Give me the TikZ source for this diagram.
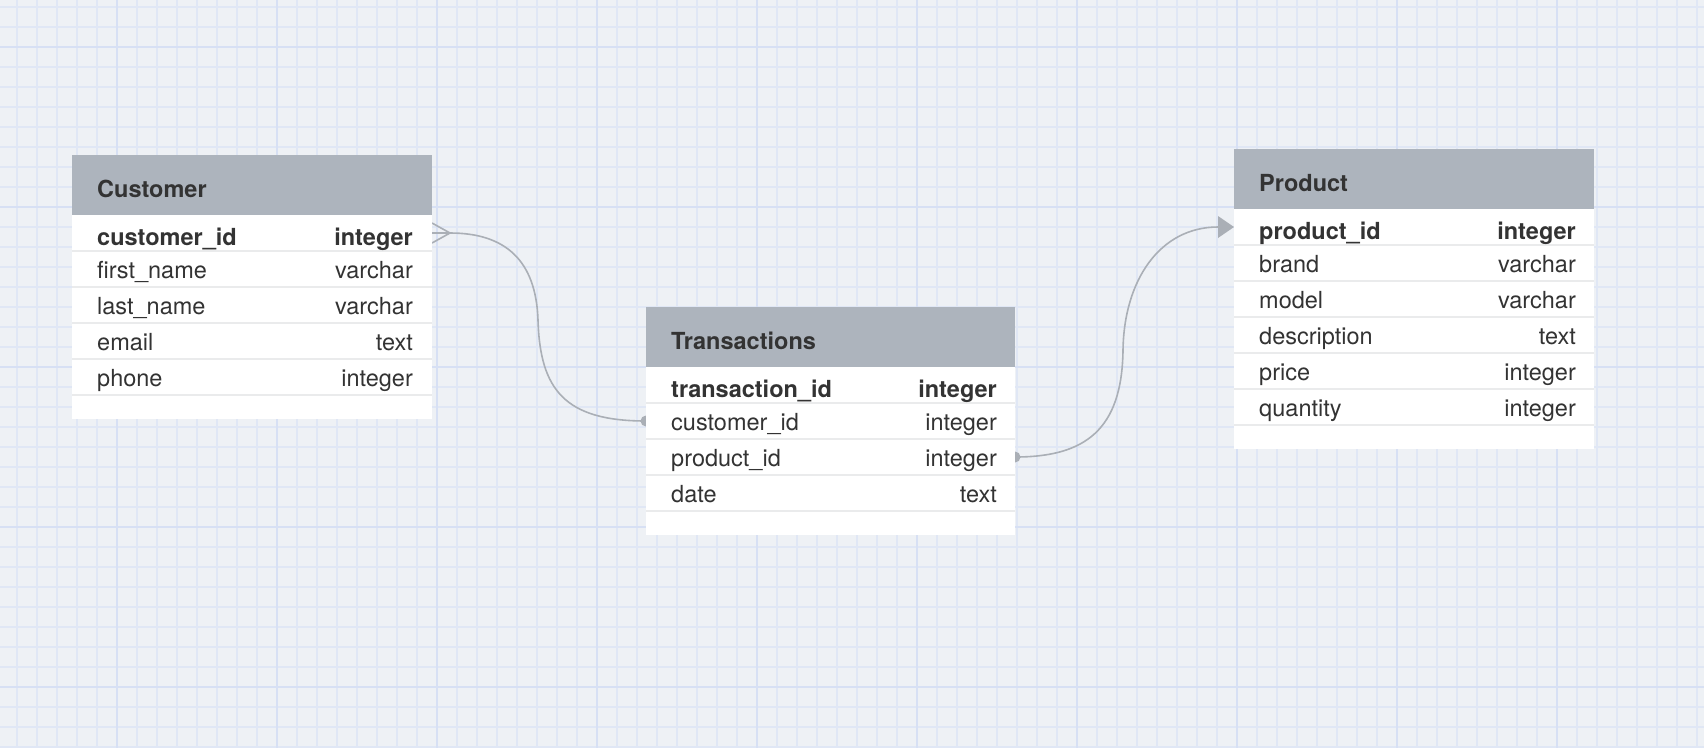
\documentclass[tikz,border=0pt]{standalone}
\usepackage{fontspec}
\setmainfont{TeX Gyre Heros}

\newlength{\du}
\setlength{\du}{1pt}

\definecolor{canvascolor}{rgb}{0.933, 0.945, 0.961}
\definecolor{minorgridcolor}{rgb}{0.878, 0.906, 0.961}
\definecolor{majorgridcolor}{rgb}{0.843, 0.878, 0.957}
\definecolor{headcolor}{rgb}{0.678, 0.706, 0.741}
\definecolor{rulecolor}{rgb}{0.918, 0.922, 0.925}
\definecolor{inkcolor}{rgb}{0.200, 0.200, 0.200}
\definecolor{linkcolor}{rgb}{0.667, 0.686, 0.714}

\pgfdeclarelayer{canvas}
\pgfdeclarelayer{links}
\pgfsetlayers{canvas,links,main}

\tikzset{
  minorgrid/.style={draw=minorgridcolor, line width=1.2\du, step=20\du},
  majorgrid/.style={draw=majorgridcolor, line width=1.6\du, step=160\du},
  tblhead/.style={fill=headcolor, anchor=north west, minimum height=60\du, inner sep=0pt, outer sep=0pt},
  tblrow/.style={fill=white, anchor=north west, minimum height=36\du, inner sep=0pt, outer sep=0pt},
  tblfoot/.style={fill=white, anchor=north west, minimum height=24\du, inner sep=0pt, outer sep=0pt},
  tblrule/.style={draw=rulecolor, line width=2\du},
  tbltitle/.style={anchor=base west, inner sep=0pt, text=inkcolor, font=\fontsize{23.5}{28}\selectfont\bfseries},
  fieldname/.style={anchor=base west, inner sep=0pt, text=inkcolor, font=\fontsize{23.5}{28}\selectfont},
  fieldtype/.style={anchor=base east, inner sep=0pt, text=inkcolor, font=\fontsize{23.5}{28}\selectfont},
  keyname/.style={fieldname, font=\fontsize{23.5}{28}\selectfont\bfseries},
  keytype/.style={fieldtype, font=\fontsize{23.5}{28}\selectfont\bfseries},
  relline/.style={draw=linkcolor, line width=1.6\du},
}

\begin{document}
\begin{tikzpicture}
\pgftransformxscale{1.000000}
\pgftransformyscale{-1.000000}
\useasboundingbox (0\du,0\du) rectangle (1704\du,748\du);
\begin{pgfonlayer}{canvas}
\fill[canvascolor] (0\du,0\du) rectangle (1704\du,748\du);
\draw[minorgrid, shift={(17\du,7\du)}] (-17\du,-7\du) grid (1687\du,741\du);
\draw[majorgrid, shift={(117\du,47\du)}] (-117\du,-47\du) grid (1587\du,701\du);
\end{pgfonlayer}

% Customer
\node[tblhead, minimum width=360\du] (customer) at (72\du,155\du) {};
\node[tbltitle] (customer-title) at (97\du,197\du) {Customer};
\node[tblrow, minimum width=360\du] (cust1) at (72\du,215\du) {};
\node[tblrow, minimum width=360\du] (cust2) at (72\du,251\du) {};
\node[tblrow, minimum width=360\du] (cust3) at (72\du,287\du) {};
\node[tblrow, minimum width=360\du] (cust4) at (72\du,323\du) {};
\node[tblrow, minimum width=360\du] (cust5) at (72\du,359\du) {};
\node[tblfoot, minimum width=360\du] (cust-foot) at (72\du,395\du) {};
\draw[tblrule] (cust1.south west) -- (cust1.south east) (cust2.south west) -- (cust2.south east)
  (cust3.south west) -- (cust3.south east) (cust4.south west) -- (cust4.south east)
  (cust5.south west) -- (cust5.south east);
\node[keyname] (cust-id) at (97\du,245\du) {customer\_id};
\node[keytype] (cust-id-type) at (413\du,245\du) {integer};
\node[fieldname] (cust-first) at (97\du,278.5\du) {first\_name};
\node[fieldtype] (cust-first-type) at (413\du,278.5\du) {varchar};
\node[fieldname] (cust-last) at (97\du,314.5\du) {last\_name};
\node[fieldtype] (cust-last-type) at (413\du,314.5\du) {varchar};
\node[fieldname] (cust-email) at (97\du,350.5\du) {email};
\node[fieldtype] (cust-email-type) at (413\du,350.5\du) {text};
\node[fieldname] (cust-phone) at (97\du,386.5\du) {phone};
\node[fieldtype] (cust-phone-type) at (413\du,386.5\du) {integer};

% Transactions
\node[tblhead, minimum width=369\du] (transactions) at (646\du,307\du) {};
\node[tbltitle] (transactions-title) at (671\du,349\du) {Transactions};
\node[tblrow, minimum width=369\du] (trans1) at (646\du,367\du) {};
\node[tblrow, minimum width=369\du] (trans2) at (646\du,403\du) {};
\node[tblrow, minimum width=369\du] (trans3) at (646\du,439\du) {};
\node[tblrow, minimum width=369\du] (trans4) at (646\du,475\du) {};
\node[tblfoot, minimum width=369\du] (trans-foot) at (646\du,511\du) {};
\draw[tblrule] (trans1.south west) -- (trans1.south east) (trans2.south west) -- (trans2.south east)
  (trans3.south west) -- (trans3.south east) (trans4.south west) -- (trans4.south east);
\node[keyname] (trans-id) at (671\du,397\du) {transaction\_id};
\node[keytype] (trans-id-type) at (997\du,397\du) {integer};
\node[fieldname] (trans-cust) at (671\du,430.5\du) {customer\_id};
\node[fieldtype] (trans-cust-type) at (997\du,430.5\du) {integer};
\node[fieldname] (trans-prod) at (671\du,466.5\du) {product\_id};
\node[fieldtype] (trans-prod-type) at (997\du,466.5\du) {integer};
\node[fieldname] (trans-date) at (671\du,502.5\du) {date};
\node[fieldtype] (trans-date-type) at (997\du,502.5\du) {text};

% Product
\node[tblhead, minimum width=360\du] (product) at (1234\du,149\du) {};
\node[tbltitle] (product-title) at (1259\du,191\du) {Product};
\node[tblrow, minimum width=360\du] (prod1) at (1234\du,209\du) {};
\node[tblrow, minimum width=360\du] (prod2) at (1234\du,245\du) {};
\node[tblrow, minimum width=360\du] (prod3) at (1234\du,281\du) {};
\node[tblrow, minimum width=360\du] (prod4) at (1234\du,317\du) {};
\node[tblrow, minimum width=360\du] (prod5) at (1234\du,353\du) {};
\node[tblrow, minimum width=360\du] (prod6) at (1234\du,389\du) {};
\node[tblfoot, minimum width=360\du] (prod-foot) at (1234\du,425\du) {};
\draw[tblrule] (prod1.south west) -- (prod1.south east) (prod2.south west) -- (prod2.south east)
  (prod3.south west) -- (prod3.south east) (prod4.south west) -- (prod4.south east)
  (prod5.south west) -- (prod5.south east) (prod6.south west) -- (prod6.south east);
\node[keyname] (prod-id) at (1259\du,239\du) {product\_id};
\node[keytype] (prod-id-type) at (1576\du,239\du) {integer};
\node[fieldname] (prod-brand) at (1259\du,272.5\du) {brand};
\node[fieldtype] (prod-brand-type) at (1576\du,272.5\du) {varchar};
\node[fieldname] (prod-model) at (1259\du,308.5\du) {model};
\node[fieldtype] (prod-model-type) at (1576\du,308.5\du) {varchar};
\node[fieldname] (prod-desc) at (1259\du,344.5\du) {description};
\node[fieldtype] (prod-desc-type) at (1576\du,344.5\du) {text};
\node[fieldname] (prod-price) at (1259\du,380.5\du) {price};
\node[fieldtype] (prod-price-type) at (1576\du,380.5\du) {integer};
\node[fieldname] (prod-qty) at (1259\du,416.5\du) {quantity};
\node[fieldtype] (prod-qty-type) at (1576\du,416.5\du) {integer};

% relations
\begin{pgfonlayer}{links}
\coordinate (custfoot) at (450\du,233\du);
\draw[relline] (cust1.east) -- (custfoot);
\draw[relline] (cust1.east) ++(0\du,-10\du) -- (custfoot) -- ++(-18\du,10\du);
\draw[relline] (custfoot) .. controls (505\du,233\du) and (536\du,260\du) .. (538\du,320\du)
  .. controls (540\du,390\du) and (565\du,421\du) .. (trans2.west);
\fill[linkcolor] (trans2.west) circle (5.5\du);
\coordinate (prodtip) at (1218\du,227\du);
\draw[relline] (trans3.east) .. controls (1085\du,457\du) and (1122\du,430\du) .. (1123\du,350\du)
  .. controls (1124\du,280\du) and (1160\du,227\du) .. (prodtip);
\fill[linkcolor] (trans3.east) circle (5.5\du);
\fill[linkcolor] (prod1.west) -- ++(-16\du,-11\du) -- ++(0\du,22\du) -- cycle;
\end{pgfonlayer}
\end{tikzpicture}
\end{document}
